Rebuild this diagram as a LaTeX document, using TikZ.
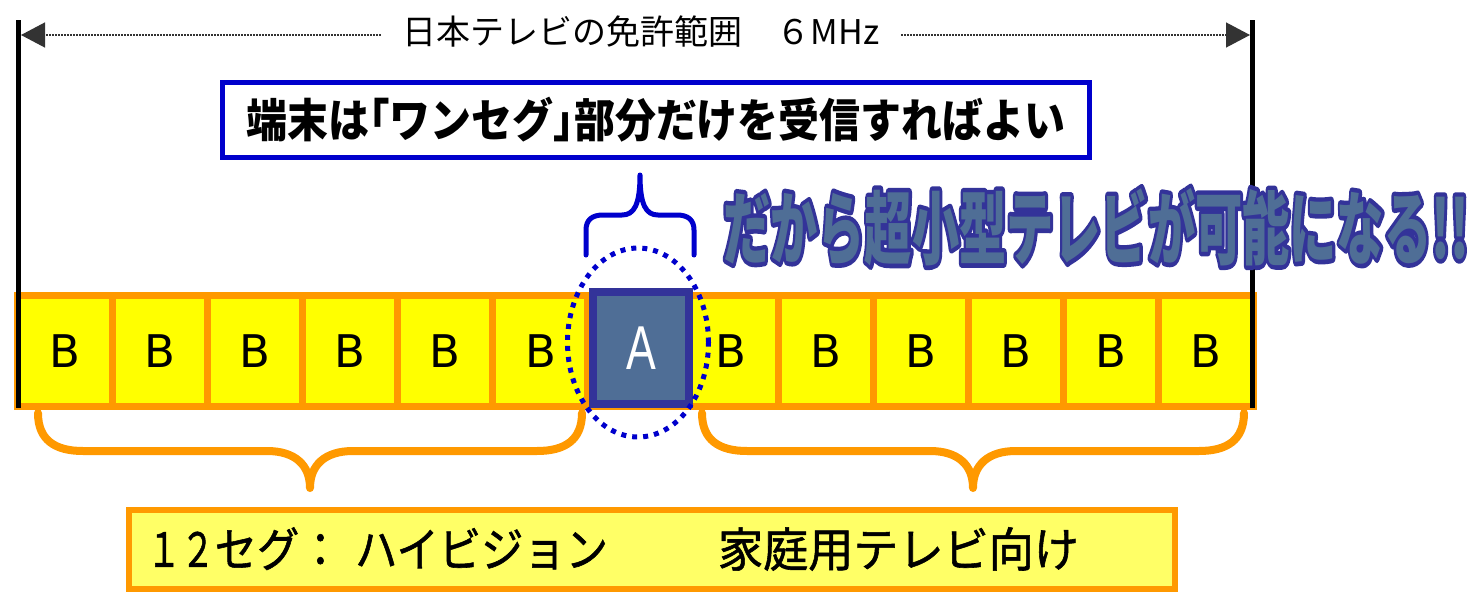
\documentclass[tikz,border=0pt]{standalone}
\usepackage{fontspec}
\setmainfont{DejaVu Sans}
\newfontfamily\jp{Noto Sans CJK JP}
\newfontfamily\jpmed{Noto Sans CJK JP}[FakeBold=1.2]
\newfontfamily\latinA{Liberation Sans}
\usetikzlibrary{arrows.meta,shapes.geometric}
\definecolor{org}{HTML}{FF9900}
\definecolor{ylw}{HTML}{FFFF00}
\definecolor{lylw}{HTML}{FFFF66}
\definecolor{bblue}{HTML}{0000CC}
\definecolor{dkblue}{HTML}{333399}
\definecolor{slate}{HTML}{4F6E96}
\newcommand\titletxt{\fontsize{80}{86}\selectfont\jp\bfseries\scalebox{0.59}[1]{だから超小型テレビが可能になる!!}}
\tikzset{
  cellbox/.style={draw=org, fill=ylw, line width=7pt, minimum width=95.08pt, minimum height=111pt, inner sep=0pt, font=\fontsize{45}{50}\selectfont},
  abox/.style={draw=dkblue, fill=slate, line width=8pt, minimum width=96pt, minimum height=112pt, inner sep=0pt, text=white},
  ovalbox/.style={draw=bblue, ellipse, line width=5pt, dash pattern=on 5pt off 6pt, minimum width=141pt, minimum height=189pt, inner sep=0pt},
  bluebox/.style={draw=bblue, fill=white, line width=5pt, minimum width=867pt, minimum height=75pt, inner sep=0pt},
  ybox/.style={draw=org, fill=lylw, line width=6pt, minimum height=79pt, text width=1010pt, inner xsep=18pt, inner ysep=0pt, align=left},
  dimline/.style={line width=1.3pt, draw=black!80, dash pattern=on 1.3pt off 1.7pt, -{Triangle[length=24pt,width=25pt]}},
  vline/.style={line width=5pt, black},
  obrace/.style={draw=org, line width=8pt, line cap=round, line join=round},
  bbrace/.style={draw=bblue, line width=5pt, line cap=round, line join=round},
  ttl/.style={inner sep=0pt}
}
\begin{document}
\begin{tikzpicture}[x=1pt,y=-1pt]
\useasboundingbox (0,0) rectangle (1484,597);
% band of cells
\foreach \k in {0,...,12}{
  \ifnum\k=6
    \node[cellbox] (c\k) at ({17.5+(\k+0.5)*95.08},351) {};
  \else
    \node[cellbox] (c\k) at ({17.5+(\k+0.5)*95.08},351) {\raisebox{-2pt}{B}};
  \fi
}
\node[abox] (A) at (641,348) {\raisebox{-5pt}{\fontsize{62}{66}\selectfont\latinA\scalebox{0.72}[1]{A}}};
\node[ovalbox] (oval) at (638,342.5) {};
% vertical limit lines
\coordinate (lt) at (18.5,20); \coordinate (lb) at (18.5,408);
\coordinate (rt) at (1252.5,20); \coordinate (rb) at (1252.5,408);
\draw[vline] (lt) -- (lb);
\draw[vline] (rt) -- (rb);
% top dimension
\node[inner xsep=22pt, inner ysep=0pt] (range) at (641,32) {\fontsize{34}{40}\selectfont\jp 日本テレビの免許範囲　６MHz};
\coordinate (la) at (21,35); \coordinate (ra) at (1250,35);
\draw[dimline] (range.west |- la) -- (la);
\draw[dimline] (range.east |- ra) -- (ra);
% blue box
\node[bluebox] (note) at (656,120) {\fontsize{46}{50}\selectfont\jp\bfseries\scalebox{0.89}[1]{端末は｢ワンセグ｣部分だけを受信すればよい}};
% blue brace
\draw[bbrace] (586,255) -- (586,230) .. controls (586,220) and (592,215) .. (603,215) -- (622,215) .. controls (634,215) and (640,205) .. (640,175)
  .. controls (640,205) and (646,215) .. (658,215) -- (677,215) .. controls (688,215) and (694,220) .. (694,230) -- (694,255);
% title with outline (stroke+fill render mode underneath, plain fill on top)
\node[ttl, text=dkblue] (titleoutline) at (1096,227) {\special{pdf:literal direct 2 Tr 9 w 1 j}\titletxt\special{pdf:literal direct 0 Tr 1 w 0 j}};
\node[ttl, text=slate] (title) at (1096,227) {\titletxt};
% orange braces
\draw[obrace] (38,413) .. controls (38,440) and (55,451) .. (83,451) -- (267,451) .. controls (295,451) and (310,465) .. (310,488)
  .. controls (310,465) and (325,451) .. (353,451) -- (537,451) .. controls (565,451) and (582,440) .. (582,413);
\draw[obrace] (702,413) .. controls (702,440) and (719,451) .. (747,451) -- (930,451) .. controls (958,451) and (973,465) .. (973,488)
  .. controls (973,465) and (988,451) .. (1016,451) -- (1199,451) .. controls (1227,451) and (1244,440) .. (1244,413);
% bottom box
\node[ybox, anchor=west] (seg) at (126,549) {\fontsize{47}{52}\selectfont\jpmed\scalebox{0.72}[1]{１２}\scalebox{0.9}[1]{セグ：}\hspace{13.5pt}\scalebox{0.9}[1]{ハイビジョン}\hspace{110pt}\scalebox{0.96}[1]{家庭用テレビ向け}};
\end{tikzpicture}
\end{document}
